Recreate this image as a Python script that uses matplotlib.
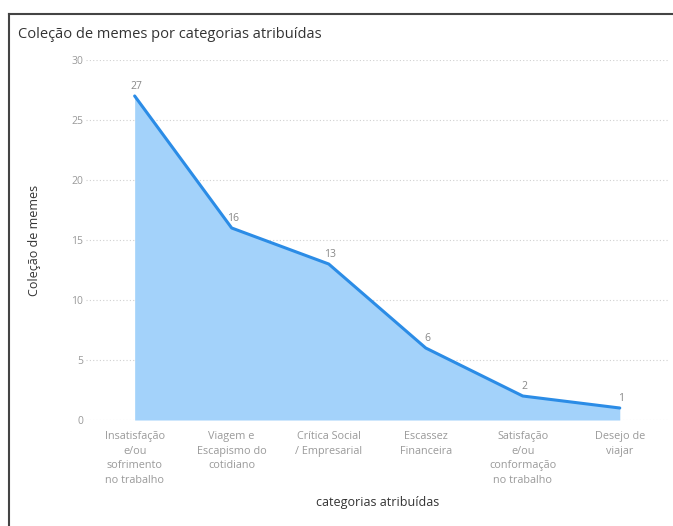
import matplotlib

matplotlib.use("Agg")
import matplotlib.pyplot as plt
from matplotlib.lines import Line2D

# categorias e contagens
categorias = [
    "Insatisfação\ne/ou\nsofrimento\nno trabalho",
    "Viagem e\nEscapismo do\ncotidiano",
    "Crítica Social\n/ Empresarial",
    "Escassez\nFinanceira",
    "Satisfação\ne/ou\nconformação\nno trabalho",
    "Desejo de\nviajar",
]
memes = [27, 16, 13, 6, 2, 1]
y_ticks = [0, 5, 10, 15, 20, 25, 30]

LINE = "#2b8ce6"
FILL = "#a3d2fa"
GRAY = "#9a9a9a"

plt.rcParams["font.family"] = ["Open Sans", "DejaVu Sans"]

fig = plt.figure(figsize=(6.73, 5.26), dpi=100)
ax = fig.add_axes([0.128, 0.2015, 0.865, 0.6845])

x = list(range(len(memes)))
ax.fill_between(x, memes, 0, color=FILL, linewidth=0)
ax.plot(x, memes, color=LINE, linewidth=2.2, solid_capstyle="round")

for xi, v in zip(x, memes):
    ax.annotate(str(v), (xi, v), xytext=(1, 3), textcoords="offset points",
                ha="center", va="bottom", fontsize=7.5, color="#888888")

ax.set_xlim(-0.5, len(memes) - 0.5)
ax.set_ylim(0, 30)
ax.set_yticks(y_ticks)
ax.set_xticks(x)
ax.set_xticklabels(categorias, fontsize=7.8, color=GRAY, linespacing=1.45)
ax.tick_params(axis="y", labelsize=7.5, labelcolor=GRAY, length=0, pad=2)
ax.tick_params(axis="x", length=0, pad=8)
ax.grid(axis="y", linestyle=(0, (1, 2)), color="#d0d0d0", linewidth=0.8)
ax.set_axisbelow(True)
for s in ax.spines.values():
    s.set_visible(False)

ax.set_xlabel("categorias atribuídas", fontsize=9, color="#333333", labelpad=7)
ax.set_ylabel("Coleção de memes", fontsize=9, color="#333333", labelpad=22)

fig.text(0.027, 0.934, "Coleção de memes por categorias atribuídas",
         fontsize=10.5, color="#333333", ha="left", va="center")

# moldura (só topo e esquerda visíveis no recorte)
fig.add_artist(Line2D([0.014, 0.014], [0.0, 0.973], color="#444444", linewidth=1.5))
fig.add_artist(Line2D([0.014, 1.0], [0.973, 0.973], color="#444444", linewidth=1.5))

fig.savefig("out.png", dpi=100)
